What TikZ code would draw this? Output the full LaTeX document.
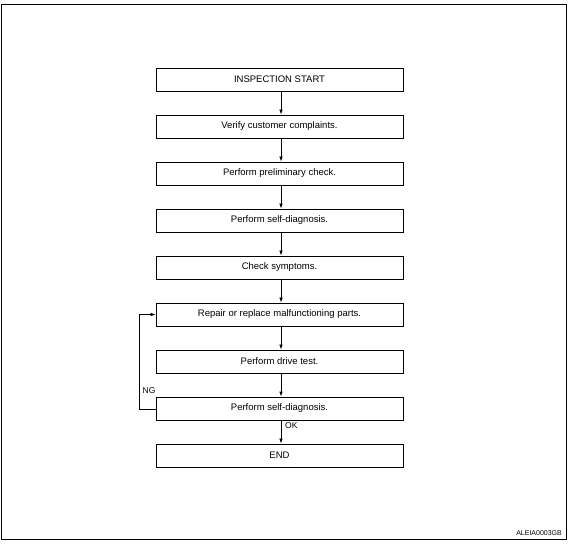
\documentclass[tikz,border=0pt]{standalone}
\usepackage{fontspec}
\setmainfont{Liberation Sans}
\usetikzlibrary{arrows.meta}
\begin{document}
\begin{tikzpicture}[x=1pt,y=-1pt,
  stepbox/.style={draw,line width=0.8pt,minimum width=247pt,minimum height=23pt,inner sep=0pt,font=\fontsize{9.5}{10}\selectfont},
  conn/.style={line width=0.7pt,-{Latex[length=5pt,width=3.5pt]}},
  lbl/.style={font=\fontsize{8.5}{9}\selectfont,inner sep=0pt}]
\useasboundingbox (0,0) rectangle (570,544);
\draw[line width=1pt] (1.5,4.5) rectangle (566.5,539);
\node[stepbox] (b1) at (279.5,79.5) {INSPECTION START};
\node[stepbox] (b2) at (279.5,126.5) {Verify customer complaints.};
\node[stepbox] (b3) at (279.5,173.5) {Perform preliminary check.};
\node[stepbox] (b4) at (279.5,220.5) {Perform self-diagnosis.};
\node[stepbox] (b5) at (279.5,267.5) {Check symptoms.};
\node[stepbox] (b6) at (279.5,314.5) {Repair or replace malfunctioning parts.};
\node[stepbox] (b7) at (279.5,361.5) {Perform drive test.};
\node[stepbox] (b8) at (279.5,408.5) {Perform self-diagnosis.};
\node[stepbox] (b9) at (279.5,455.5) {END};
\foreach \a/\b in {b1/b2,b2/b3,b3/b4,b4/b5,b5/b6,b6/b7,b7/b8,b8/b9}
  \draw[conn] ([xshift=1.5pt]\a.south) -- ([xshift=1.5pt]\b.north);
\draw[conn] ([yshift=-0.5pt]b8.west) -| (139,314.5) -- (b6.west);
\node[lbl,anchor=west] (ng) at (142.5,391) {NG};
\node[lbl,anchor=west] (ok) at (285,425.5) {OK};
\node[font=\fontsize{7}{8}\selectfont,anchor=east,inner sep=0pt] (id) at (562,533) {ALEIA0003GB};
\end{tikzpicture}
\end{document}
